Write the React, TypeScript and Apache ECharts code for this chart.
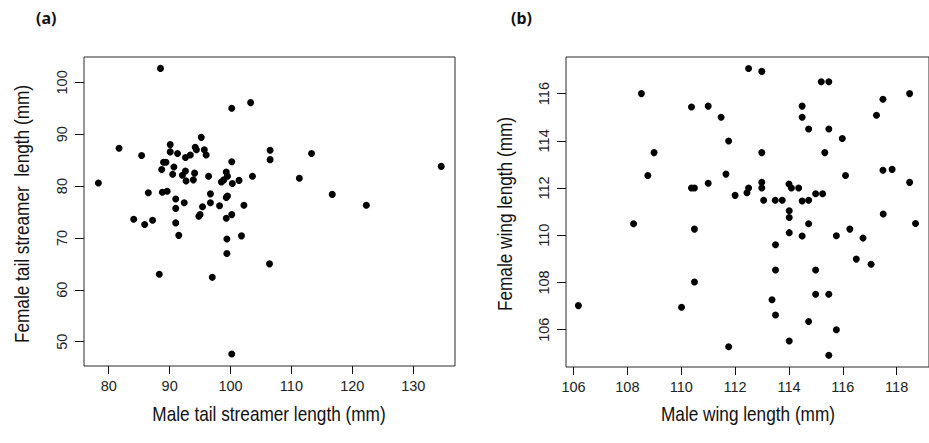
import React, { useEffect, useRef } from "react";
import * as echarts from "echarts";

// Panel (a): tail streamer lengths (male x, female y)
const tailMale = [78.3, 81.7, 84.1, 85.4, 85.9, 86.5, 87.2, 88.3, 88.5, 88.7, 89.0, 89.4, 88.8, 89.6, 90.1, 90.1, 90.7, 90.5, 91.0, 91.0, 91.0, 91.5, 91.3, 92.6, 93.4, 92.6, 92.1, 92.7, 93.9, 94.1, 92.4, 94.2, 94.4, 95.2, 95.7, 96.0, 95.4, 95.0, 94.8, 96.4, 96.7, 96.7, 97.0, 98.2, 98.5, 98.9, 99.3, 99.5, 99.3, 99.5, 99.3, 99.4, 99.4, 100.2, 100.2, 100.3, 100.2, 100.2, 101.4, 101.8, 102.2, 103.3, 103.6, 106.5, 106.5, 106.4, 111.3, 113.3, 116.7, 122.3, 134.6];
const tailFemale = [80.6, 87.3, 73.6, 85.9, 72.6, 78.7, 73.4, 63.0, 102.7, 83.2, 84.6, 84.6, 78.8, 79.0, 88.0, 86.6, 83.7, 82.3, 77.5, 75.7, 72.9, 70.5, 86.3, 85.5, 86.0, 82.9, 82.1, 81.0, 81.2, 82.5, 76.8, 87.5, 87.0, 89.4, 87.0, 86.0, 76.0, 74.5, 74.2, 81.9, 78.5, 76.8, 62.4, 76.2, 80.8, 81.2, 82.7, 81.9, 77.8, 78.1, 73.8, 69.8, 67.0, 95.0, 84.7, 80.5, 74.5, 47.6, 81.1, 70.4, 76.3, 96.1, 81.9, 86.9, 85.1, 65.0, 81.5, 86.3, 78.4, 76.3, 83.8];

// Panel (b): wing lengths (male x, female y)
const wingMale = [106.18, 108.23, 108.52, 108.76, 108.99, 110.01, 110.38, 110.38, 110.49, 110.49, 110.49, 111.0, 111.0, 111.48, 111.66, 111.76, 111.76, 112.0, 112.44, 112.5, 112.5, 112.99, 112.99, 112.99, 112.99, 113.06, 113.49, 113.75, 113.5, 113.5, 113.37, 113.5, 114.0, 114.09, 114.01, 114.01, 114.01, 114.01, 114.36, 114.49, 114.49, 114.49, 114.49, 114.73, 114.73, 114.73, 114.73, 114.99, 114.99, 114.99, 115.2, 115.25, 115.33, 115.48, 115.48, 115.48, 115.48, 115.76, 115.76, 115.98, 116.1, 116.26, 116.5, 116.75, 117.05, 117.25, 117.49, 117.49, 117.5, 117.83, 118.48, 118.48, 118.7];
const wingFemale = [107.02, 110.49, 116.0, 112.53, 113.5, 106.95, 115.43, 112.0, 112.0, 110.26, 108.02, 115.47, 112.2, 115.0, 112.59, 113.99, 105.28, 111.69, 111.8, 112.0, 117.06, 116.94, 113.5, 112.24, 112.0, 111.48, 111.48, 111.48, 109.6, 108.53, 107.27, 106.62, 112.17, 112.0, 111.04, 110.75, 110.11, 105.52, 112.0, 115.47, 115.0, 111.45, 109.97, 114.5, 111.48, 110.49, 106.35, 111.76, 108.53, 107.5, 116.5, 111.76, 113.5, 116.5, 114.5, 107.5, 104.92, 109.98, 106.0, 114.1, 112.53, 110.26, 108.99, 109.88, 108.77, 115.08, 115.76, 112.75, 110.9, 112.79, 116.0, 112.24, 110.5];

const tailXTicks = [80, 90, 100, 110, 120, 130];
const tailYTicks = [50, 60, 70, 80, 90, 100];
const wingXTicks = [106, 108, 110, 112, 114, 116, 118];
const wingYTicks = [106, 108, 110, 112, 114, 116];

const tailTitleX = "Male tail streamer length (mm)";
const tailTitleY = "Female tail streamer  length (mm)";
const wingTitleX = "Male wing length (mm)";
const wingTitleY = "Female wing length (mm)";
const panelLabels = ["(a)", "(b)"];

const FONT = "'Liberation Sans', Arial, sans-serif";

function xAxisCfg(gridIndex: number, min: number, max: number, ticks: number[]) {
  return {
    type: "value",
    gridIndex,
    min,
    max,
    axisLine: { show: false },
    splitLine: { show: false },
    axisTick: { show: true, inside: false, length: 8, customValues: ticks, lineStyle: { color: "#111", width: 1 } },
    axisLabel: { show: true, customValues: ticks, margin: 12, fontFamily: FONT, fontSize: 14.5, color: "#222" },
  };
}

function yAxisCfg(gridIndex: number, min: number, max: number, ticks: number[]) {
  return {
    type: "value",
    gridIndex,
    min,
    max,
    axisLine: { show: false },
    splitLine: { show: false },
    axisTick: { show: true, inside: false, length: 9, customValues: ticks, lineStyle: { color: "#111", width: 1 } },
    axisLabel: { show: true, customValues: ticks, rotate: 90, margin: 15, fontFamily: FONT, fontSize: 14.5, color: "#222" },
  };
}

function title(text: string, x: number, y: number, vertical: boolean) {
  return {
    type: "text",
    x,
    y,
    rotation: vertical ? Math.PI / 2 : 0,
    scaleX: 0.82,
    style: { text, align: "center", verticalAlign: "middle", font: `21px ${FONT}`, fill: "#111" },
  };
}

export default function App() {
  const ref = useRef<HTMLDivElement>(null);
  useEffect(() => {
    if (!ref.current) return;
    const chart = echarts.init(ref.current, undefined, { renderer: "svg" });
    const tailData = tailMale.map((x, i) => [x, tailFemale[i]]);
    const wingData = wingMale.map((x, i) => [x, wingFemale[i]]);
    chart.setOption({
      animation: false,
      backgroundColor: "#fff",
      grid: [
        { left: 84, top: 57, width: 371, height: 309, show: true, borderColor: "#2a2a2a", borderWidth: 1, backgroundColor: "transparent" },
        { left: 566, top: 57, width: 368, height: 310, show: true, borderColor: "#2a2a2a", borderWidth: 1, backgroundColor: "transparent" },
      ],
      xAxis: [
        xAxisCfg(0, 75.94, 136.86, tailXTicks),
        xAxisCfg(1, 105.72, 119.2, wingXTicks),
      ],
      yAxis: [
        yAxisCfg(0, 45.3, 104.9, tailYTicks),
        yAxisCfg(1, 104.42, 117.55, wingYTicks),
      ],
      graphic: [
        { type: "text", left: 36, top: 10, style: { text: panelLabels[0], font: "bold 16px 'Noto Sans', sans-serif", fill: "#111" } },
        { type: "text", left: 511, top: 10, style: { text: panelLabels[1], font: "bold 16px 'Noto Sans', sans-serif", fill: "#111" } },
        title(tailTitleX, 269, 414, false),
        title(wingTitleX, 748, 414, false),
        title(tailTitleY, 22, 214, true),
        title(wingTitleY, 505, 214, true),
      ],
      series: [
        { type: "scatter", xAxisIndex: 0, yAxisIndex: 0, data: tailData, symbol: "circle", symbolSize: 7, itemStyle: { color: "#000", opacity: 1 } },
        { type: "scatter", xAxisIndex: 1, yAxisIndex: 1, data: wingData, symbol: "circle", symbolSize: 7, itemStyle: { color: "#000", opacity: 1 } },
      ],
    });
    return () => chart.dispose();
  }, []);
  return <div ref={ref} style={{ position: "absolute", left: 0, top: 0, width: 929, height: 443 }} />;
}
